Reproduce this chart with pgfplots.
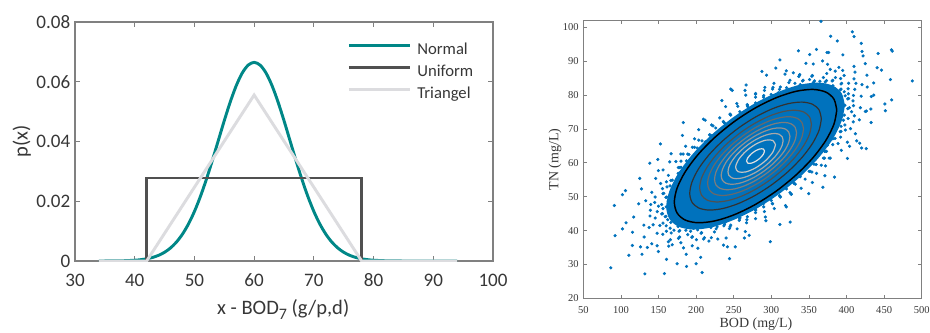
\documentclass[border=0pt]{standalone}
\usepackage{pgfplots}
\pgfplotsset{compat=1.18}
\usepackage{fontspec}
\setmainfont{Carlito}
\newfontfamily\timesfont{Liberation Serif}
\definecolor{tealc}{RGB}{0,135,135}
\definecolor{unif}{RGB}{80,80,80}
\definecolor{tri}{RGB}{220,220,223}
\definecolor{mblue}{RGB}{0,114,189}
\definecolor{axgray}{RGB}{128,128,128}
\definecolor{txtgray}{RGB}{55,55,55}
\definecolor{e2}{RGB}{50,50,50}
\definecolor{e3}{RGB}{80,80,80}
\definecolor{e4}{RGB}{105,105,105}
\definecolor{e5}{RGB}{125,125,125}
\definecolor{e6}{RGB}{145,145,145}
\definecolor{e7}{RGB}{168,168,168}
\definecolor{e8}{RGB}{195,195,195}
\definecolor{e9}{RGB}{225,225,225}
\begin{document}
\begin{tikzpicture}
\useasboundingbox (0,0) rectangle (697.5pt,249pt);
% ---------------- left panel ----------------
\begin{axis}[
  at={(56.25pt,53.25pt)}, anchor=south west,
  scale only axis, width=313.5pt, height=179.25pt,
  xmin=30, xmax=100, ymin=0, ymax=0.08,
  xtick={30,40,50,60,70,80,90,100},
  ytick={0,0.02,0.04,0.06,0.08},
  yticklabels={0,0.02,0.04,0.06,0.08},
  scaled y ticks=false,
  axis line style={axgray, line width=0.8pt},
  tick style={axgray, line width=0.8pt},
  major tick length=3.5pt,
  tick align=inside,
  /pgf/number format/assume math mode=true,
  ticklabel style={font=\fontsize{14.3}{15}\selectfont, text=txtgray},
  xticklabel style={yshift=-6pt},
  xlabel={x - BOD\raisebox{-0.55ex}{\fontsize{12}{12}\selectfont 7} (g/p,d)},
  ylabel={p(x)},
  label style={font=\fontsize{15.4}{16}\selectfont, text=txtgray},
  xlabel style={at={(axis description cs:0.498,-0.222)}, anchor=base},
  ylabel style={at={(axis description cs:-0.1275,0.5)}, anchor=center},
  legend style={at={(axis description cs:0.651,0.916)}, anchor=north west,
    draw=none, fill=none, inner sep=0pt, row sep=4.5pt, column sep=4.5pt,
    font=\fontsize{12.5}{13}\selectfont, text=txtgray,
    nodes={inner sep=0pt, text height=9pt, text depth=3pt}},
  legend cell align=left,
  legend image code/.code={\draw[#1] (0pt,3.5pt) -- (45.75pt,3.5pt);},
]
\addplot[tealc, line width=2.2pt, smooth] coordinates {
(34,0.0000056) (36,0.0000223) (38,0.0000799) (40,0.000257) (41,0.000442)
(42,0.000739) (43,0.00120) (44,0.00190) (45,0.00292) (46,0.00437)
(47,0.00636) (48,0.00900) (49,0.01239) (50,0.01658) (51,0.02159)
(52,0.02733) (53,0.03367) (54,0.04033) (55,0.04699) (56,0.05324)
(57,0.05868) (58,0.06290) (59,0.06557) (60,0.06649) (61,0.06557)
(62,0.06290) (63,0.05868) (64,0.05324) (65,0.04699) (66,0.04033)
(67,0.03367) (68,0.02733) (69,0.02159) (70,0.01658) (71,0.01239)
(72,0.00900) (73,0.00636) (74,0.00437) (75,0.00292) (76,0.00190)
(77,0.00120) (78,0.000739) (79,0.000442) (80,0.000257) (82,0.0000799)
(84,0.0000223) (86,0.0000056) (94,0)};
\addlegendentry{Normal}
\addplot[unif, line width=2.2pt] coordinates {
(34,0) (42,0) (42,0.02778) (78,0.02778) (78,0) (94,0)};
\addlegendentry{Uniform}
\addplot[tri, line width=2.2pt] coordinates {
(34,0) (42,0) (60,0.05556) (78,0) (94,0)};
\addlegendentry{Triangel}
\end{axis}
% ---------------- right panel ----------------
\begin{axis}[
  at={(437.5pt,25.3pt)}, anchor=south west,
  scale only axis, width=253.8pt, height=208.2pt,
  xmin=50, xmax=500, ymin=20, ymax=102,
  xtick={50,100,150,200,250,300,350,400,450,500},
  ytick={20,30,40,50,60,70,80,90,100},
  axis line style={axgray, line width=0.6pt},
  tick style={axgray, line width=0.6pt},
  major tick length=2.5pt,
  tick align=inside,
  /pgf/number format/assume math mode=true,
  ticklabel style={font=\timesfont\fontsize{7.9}{8}\selectfont, text=txtgray},
  xticklabel style={yshift=-3pt},
  xlabel={BOD (mg/L)},
  ylabel={TN (mg/L)},
  label style={font=\timesfont\fontsize{10.5}{11}\selectfont, text=txtgray},
  xlabel style={at={(axis description cs:0.51,-0.106)}, anchor=base},
  ylabel style={at={(axis description cs:-0.084,0.5)}, anchor=center},
]
% dense core of the cloud
\addplot[fill=mblue, draw=none, smooth] coordinates {
(397.8,77.0) (393.7,80.5) (381.9,82.8) (363.0,83.7) (338.4,83.1) (309.7,81.0)
(279.0,77.7) (248.3,73.3) (219.6,68.1) (195.0,62.5) (176.1,56.9) (164.3,51.6)
(160.2,47.0) (164.3,43.5) (176.1,41.2) (195.0,40.3) (219.6,40.9) (248.3,43.0)
(279.0,46.3) (309.7,50.7) (338.4,55.9) (363.0,61.5) (381.9,67.1) (393.7,72.5)
(397.8,77.0)};
% scattered samples
\addplot[mblue, only marks, mark=*, mark size=1.0pt, mark options={draw=none, fill=mblue}] coordinates {
(397.8,77.0) (402.7,79.0) (398.2,79.8) (402.1,81.9) (391.7,81.6) (392.6,83.3)
(381.9,82.8) (380.8,84.2) (371.6,83.9) (369.2,85.2) (356.0,83.8) (350.8,84.6)
(338.4,83.1) (331.4,83.5) (320.3,82.2) (312.0,82.4) (299.8,80.2) (289.9,79.9)
(279.0,77.7) (268.2,77.0) (258.1,75.1) (246.0,74.1) (238.0,71.7) (226.1,70.3)
(219.6,68.1) (207.8,66.5) (201.3,64.4) (188.8,62.6) (187.2,60.6) (176.3,58.6)
(176.1,56.9) (166.4,54.8) (165.3,53.2) (155.9,50.9) (160.9,49.9) (154.2,47.7)
(160.2,47.0) (155.3,45.0) (159.8,44.2) (155.9,42.2) (166.3,42.4) (165.4,40.7)
(176.1,41.2) (177.2,39.8) (186.4,40.1) (188.8,38.8) (202.0,40.2) (207.2,39.4)
(219.6,40.9) (226.6,40.5) (237.7,41.8) (246.0,41.6) (258.2,43.8) (268.1,44.1)
(279.0,46.3) (289.8,47.0) (299.9,48.9) (312.0,49.9) (320.0,52.3) (331.9,53.7)
(338.4,55.9) (350.2,57.5) (356.7,59.6) (369.2,61.4) (370.8,63.4) (381.7,65.4)
(381.9,67.1) (391.6,69.2) (392.7,70.8) (402.1,73.1) (397.1,74.1) (403.8,76.3)
(408.6,78.3) (401.7,78.9) (410.9,81.7) (396.9,81.0) (402.8,83.5) (393.5,83.5)
(396.8,85.8) (385.2,85.2) (373.3,84.3) (373.7,86.4) (357.4,84.2) (354.5,85.8)
(342.2,84.4) (336.5,85.5) (323.3,83.7) (310.9,81.7) (302.2,82.3) (289.6,79.4)
(279.0,79.4) (268.0,77.2) (255.4,76.7) (245.4,74.3) (236.9,72.0) (222.5,70.9)
(218.0,68.3) (203.5,66.7) (197.8,64.6) (182.7,62.6) (179.8,60.5) (178.1,58.6)
(163.1,56.3) (168.4,54.9) (155.2,52.4) (157.0,51.0) (144.9,48.3) (149.9,47.2)
(155.9,46.5) (145.6,43.7) (158.8,44.1) (151.8,41.5) (160.2,41.4) (155.6,38.9)
(166.8,39.3) (178.1,40.0) (176.5,37.7) (192.7,39.8) (194.3,38.0) (206.6,39.2)
(211.0,37.9) (224.3,39.6) (236.9,41.4) (244.3,40.6) (257.9,43.5) (267.5,43.2)
(279.0,45.3) (290.8,45.6) (301.4,48.0) (310.9,50.3) (324.8,51.2) (330.5,53.9)
(344.9,55.2) (351.4,57.5) (366.4,59.3) (370.7,61.4) (373.3,63.4) (388.7,65.7)
(384.7,67.2) (398.4,69.7) (397.8,71.2) (410.4,73.9) (406.7,75.1) (401.7,76.0)
(395.6,76.7) (409.2,79.9) (402.4,80.4) (412.5,83.5) (392.7,81.8) (384.7,81.8)
(392.1,84.9) (381.7,84.4) (384.9,87.1) (364.6,84.1) (354.0,83.2) (353.9,85.6)
(341.6,84.2) (337.4,85.9) (324.8,84.4) (309.2,80.7) (301.6,81.8) (290.8,81.4)
(279.0,80.3) (268.5,76.6) (258.8,74.6) (245.1,74.4) (236.2,72.2) (220.6,71.2)
(218.5,68.2) (212.1,66.2) (195.0,64.6) (190.4,62.5) (173.1,60.4) (179.9,58.7)
(178.0,57.0) (160.5,54.4) (161.3,52.9) (145.5,49.9) (159.8,49.8) (162.8,48.7)
(148.3,45.6) (154.2,44.9) (142.8,41.7) (162.2,43.2) (169.4,42.9) (160.5,39.8)
(170.5,40.1) (165.7,37.3) (178.1,38.1) (196.5,40.7) (195.0,38.2) (200.4,37.3)
(209.9,37.5) (227.9,41.1) (239.1,42.5) (245.1,41.1) (257.3,43.0) (267.0,42.3)
(279.0,46.0) (289.2,47.9) (301.6,47.9) (311.5,50.1) (326.2,50.8) (330.1,54.0)
(337.3,56.0) (353.9,57.3) (359.5,59.5) (376.8,61.4) (371.6,63.4) (374.6,65.2)
(392.1,67.6) (392.6,69.3) (408.9,72.1) (395.8,72.6) (393.9,73.8) (409.2,76.9)
(419.4,79.7) (427.5,82.4) (420.5,83.1) (427.1,85.9) (409.9,84.8) (409.9,88.5)
(394.9,87.3) (389.8,88.2) (378.3,87.6) (374.8,89.1) (355.7,89.2) (337.8,86.1)
(329.2,86.6) (318.2,86.2) (303.5,83.5) (279.0,80.5) (266.0,80.0) (254.1,77.5)
(239.2,76.6) (231.4,73.3) (203.4,69.8) (197.9,67.1) (186.0,64.9) (179.7,62.6)
(164.9,60.3) (146.2,55.4) (152.7,53.9) (141.0,51.3) (133.0,48.8) (139.6,47.7)
(138.6,44.3) (130.5,41.6) (137.5,40.9) (130.9,38.1) (148.1,39.2) (148.1,35.5)
(163.1,36.7) (168.2,35.8) (179.7,36.4) (183.2,34.9) (202.3,34.8) (220.2,37.9)
(228.8,37.5) (239.8,37.8) (254.5,40.5) (279.0,43.5) (292.0,44.0) (303.9,46.5)
(318.8,47.4) (326.6,50.7) (354.6,54.2) (360.1,56.9) (372.0,59.1) (378.3,61.4)
(393.1,63.7) (411.8,68.6) (405.3,70.1) (417.0,72.7) (425.0,75.2) (418.4,76.3)
(411.2,86.8) (368.1,90.1) (291.4,82.3) (212.0,72.6) (156.0,57.9) (139.1,46.0)
(141.0,36.1) (194.8,35.5) (265.4,39.7) (339.6,52.5) (401.1,66.1) (432.9,79.6)
(436.1,83.6) (440.7,88.1) (424.9,89.3) (420.6,92.9) (395.1,91.9) (376.2,92.6)
(346.0,89.4) (319.9,87.2) (293.6,85.9) (265.0,81.4) (234.2,78.4) (209.7,72.9)
(181.8,68.1) (166.7,62.7) (149.8,57.7) (127.3,52.3) (123.6,47.9) (106.8,42.3)
(115.4,39.5) (115.2,35.6) (135.1,35.0) (149.8,33.8) (160.6,31.5) (186.8,33.0)
(206.0,32.1) (236.4,35.7) (264.2,37.8) (292.8,42.9) (319.9,47.0) (349.7,50.9)
(371.2,56.2) (401.2,61.3) (413.5,66.5) (432.7,71.9) (432.3,75.9) (436.1,80.0)
(458.3,84.6) (459.7,93.4) (419.6,95.3) (378.9,97.4) (311.4,90.4) (248.0,81.4)
(182.9,71.9) (138.4,59.9) (91.2,47.4) (92.2,38.5) (110.5,32.7) (131.8,27.2)
(187.2,29.4) (244.4,31.7) (311.4,41.8) (368.6,52.8) (426.2,64.2) (451.6,75.4)
(86.5,29.0) (157.8,27.3) (208.0,27.6) (200.0,30.2) (174.7,30.2) (102.0,40.5)
(102.0,50.6) (106.0,51.8) (125.0,55.4) (152.5,65.6) (149.0,61.0) (128.0,33.0)
(126.0,35.2) (117.0,44.0) (246.0,81.8) (266.5,83.0) (287.5,87.0) (306.0,88.0)
(336.0,93.1) (351.0,92.0) (360.0,93.5) (366.0,101.8) (387.7,96.0) (407.7,98.7)
(410.0,97.3) (374.0,92.6) (422.0,91.6) (442.0,92.3) (446.5,87.4) (460.8,93.0)
(487.5,84.2) (460.0,78.6) (451.0,77.4) (426.5,75.3) (417.5,65.8) (420.0,64.4)
(404.0,64.9) (384.0,55.8) (325.0,42.5) (298.6,36.7) (270.5,38.6) (252.0,35.2)
(241.6,35.2) (217.0,36.9) (163.6,35.4)};
% density contours
\addplot[black, line width=1.1pt, smooth] coordinates {
(387.0,75.59) (383.3,78.82) (372.5,80.90) (355.4,81.69) (333.0,81.14) (307.0,79.29)
(279.0,76.26) (251.1,72.26) (225.0,67.55) (202.6,62.47) (185.5,57.36) (174.7,52.56)
(171.0,48.41) (174.7,45.18) (185.5,43.10) (202.6,42.31) (225.0,42.86) (251.1,44.71)
(279.0,47.74) (307.0,51.74) (333.0,56.45) (355.4,61.53) (372.5,66.64) (383.3,71.44)
(387.0,75.59)};
\addplot[e2, line width=0.9pt, smooth] coordinates {
(366.5,73.01) (363.5,75.62) (354.8,77.31) (340.9,77.95) (322.7,77.50) (301.6,76.00)
(279.0,73.55) (256.4,70.31) (235.3,66.50) (217.1,62.38) (203.2,58.24) (194.5,54.35)
(191.5,50.99) (194.5,48.38) (203.2,46.69) (217.1,46.05) (235.3,46.50) (256.4,48.00)
(279.0,50.45) (301.6,53.69) (322.7,57.50) (340.9,61.62) (354.8,65.76) (363.5,69.65)
(366.5,73.01)};
\addplot[e3, line width=0.9pt, smooth] coordinates {
(353.3,71.35) (350.8,73.57) (343.3,75.00) (331.5,75.55) (316.2,75.17) (298.2,73.90)
(279.0,71.81) (259.8,69.06) (241.8,65.82) (226.5,62.32) (214.7,58.81) (207.2,55.51)
(204.7,52.65) (207.2,50.43) (214.7,49.00) (226.5,48.45) (241.8,48.83) (259.8,50.10)
(279.0,52.19) (298.2,54.94) (316.2,58.18) (331.5,61.68) (343.3,65.19) (350.8,68.49)
(353.3,71.35)};
\addplot[e4, line width=0.9pt, smooth] coordinates {
(342.8,70.03) (340.6,71.94) (334.3,73.17) (324.1,73.64) (310.9,73.31) (295.5,72.22)
(279.0,70.43) (262.5,68.06) (247.1,65.28) (233.9,62.28) (223.7,59.26) (217.4,56.42)
(215.2,53.97) (217.4,52.06) (223.7,50.83) (233.9,50.36) (247.1,50.69) (262.5,51.78)
(279.0,53.57) (295.5,55.94) (310.9,58.72) (324.1,61.72) (334.3,64.74) (340.6,67.58)
(342.8,70.03)};
\addplot[e5, line width=0.9pt, smooth] coordinates {
(333.5,68.86) (331.7,70.49) (326.2,71.54) (317.6,71.94) (306.3,71.67) (293.1,70.73)
(279.0,69.20) (264.9,67.18) (251.7,64.80) (240.4,62.24) (231.8,59.66) (226.3,57.23)
(224.5,55.14) (226.3,53.51) (231.8,52.46) (240.4,52.06) (251.7,52.33) (264.9,53.27)
(279.0,54.80) (293.1,56.82) (306.3,59.20) (317.6,61.76) (326.2,64.34) (331.7,66.77)
(333.5,68.86)};
\addplot[e6, line width=0.9pt, smooth] coordinates {
(324.7,67.75) (323.1,69.11) (318.6,69.99) (311.3,70.33) (301.8,70.10) (290.8,69.31)
(279.0,68.03) (267.2,66.34) (256.2,64.35) (246.7,62.20) (239.4,60.04) (234.9,58.01)
(233.3,56.25) (234.9,54.89) (239.4,54.01) (246.7,53.67) (256.2,53.90) (267.2,54.69)
(279.0,55.97) (290.8,57.66) (301.8,59.65) (311.3,61.80) (318.6,63.96) (323.1,65.99)
(324.7,67.75)};
\addplot[e7, line width=0.9pt, smooth] coordinates {
(315.6,66.61) (314.4,67.70) (310.7,68.41) (304.9,68.67) (297.3,68.49) (288.5,67.86)
(279.0,66.83) (269.5,65.48) (260.7,63.88) (253.1,62.16) (247.3,60.43) (243.6,58.80)
(242.4,57.39) (243.6,56.30) (247.3,55.59) (253.1,55.33) (260.7,55.51) (269.5,56.14)
(279.0,57.17) (288.5,58.52) (297.3,60.12) (304.9,61.84) (310.7,63.57) (314.4,65.20)
(315.6,66.61)};
\addplot[e8, line width=0.9pt, smooth] coordinates {
(305.5,65.33) (301.9,66.63) (292.2,66.69) (279.0,65.49) (265.8,63.36) (256.1,60.86)
(252.5,58.67) (256.1,57.37) (265.8,57.31) (279.0,58.51) (292.2,60.64) (301.9,63.14)
(305.5,65.33)};
\addplot[e9, line width=0.9pt, smooth] coordinates {
(290.9,63.49) (289.3,64.08) (284.9,64.11) (279.0,63.57) (273.1,62.61) (268.7,61.49)
(267.1,60.51) (268.7,59.92) (273.1,59.89) (279.0,60.43) (284.9,61.39) (289.3,62.51)
(290.9,63.49)};
\end{axis}
\end{tikzpicture}
\end{document}
